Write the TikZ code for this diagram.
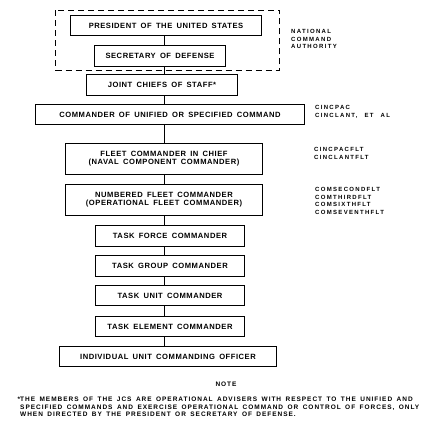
\documentclass[tikz,border=0pt]{standalone}
\usepackage{fontspec}
\setmainfont{Liberation Sans}
\newfontfamily\chartfont[LetterSpace=7,WordSpace=1.6]{Liberation Sans}
\newfontfamily\tagfont[LetterSpace=22,WordSpace=2.4]{Liberation Sans}
\newfontfamily\notefont[LetterSpace=15,WordSpace=1.6]{Liberation Sans}
\usetikzlibrary{positioning}

\begin{document}
\begin{tikzpicture}[x=1pt, y=-1pt,
  every node/.style={font=\chartfont\bfseries\fontsize{7.6}{8.2}\selectfont},
  box/.style={draw, line width=1pt, minimum height=21pt, inner sep=0pt, align=center},
  tag/.style={anchor=north west, align=left, inner sep=0pt, font=\tagfont\bfseries\fontsize{6}{7.8}\selectfont}]
\useasboundingbox (0,0) rectangle (442,438);

% National command authority
\node[box, minimum width=191pt, minimum height=20pt] (pres) at (166,25.5) {PRESIDENT OF THE UNITED STATES};
\node[box, minimum width=131pt] (secdef) at (160,56) {SECRETARY OF DEFENSE};
\draw[line width=0.8pt, dash pattern=on 6pt off 4pt] (55.5,10.5) rectangle (279.5,70.5);
\node[tag] (ncatag) at (291,29) {NATIONAL\\COMMAND\\AUTHORITY};

% Chain of command
\node[box, minimum width=151pt] (jcs) at (162,85) {JOINT CHIEFS OF STAFF*};
\node[box, minimum width=269pt, minimum height=20pt] (unified) at (170,114.5) {COMMANDER OF UNIFIED OR SPECIFIED COMMAND};
\node[box, minimum width=197pt, minimum height=31pt] (fleet) at (164,159) {FLEET COMMANDER IN CHIEF\\(NAVAL COMPONENT COMMANDER)};
\node[box, minimum width=197pt, minimum height=31pt] (numbered) at (164,200) {NUMBERED FLEET COMMANDER\\(OPERATIONAL FLEET COMMANDER)};
\node[box, minimum width=149pt] (tf) at (170,236) {TASK FORCE COMMANDER};
\node[box, minimum width=149pt] (tg) at (170,266) {TASK GROUP COMMANDER};
\node[box, minimum width=149pt, minimum height=20pt] (tu) at (170,295.5) {TASK UNIT COMMANDER};
\node[box, minimum width=149pt, minimum height=20pt] (te) at (170,326.5) {TASK ELEMENT COMMANDER};
\node[box, minimum width=217pt, minimum height=20pt] (indiv) at (168,356.5) {INDIVIDUAL UNIT COMMANDING OFFICER};

% Command designators
\node[tag] (cinctag) at (315,105) {CINCPAC\\CINCLANT, ET AL};
\node[tag] (flttag) at (314,147) {CINCPACFLT\\CINCLANTFLT};
\node[tag] (numtag) at (315,187) {COMSECONDFLT\\COMTHIRDFLT\\COMSIXTHFLT\\COMSEVENTHFLT};

% Connectors
\coordinate (spine) at (164.5,0);
\foreach \a/\b in {pres/secdef, secdef/jcs, jcs/unified, unified/fleet, fleet/numbered, numbered/tf, tf/tg, tg/tu, tu/te, te/indiv}
  \draw[line width=1pt] (\a.south -| spine) -- (\b.north -| spine);

% Note
\node[font=\notefont\bfseries\fontsize{6.5}{7.6}\selectfont, anchor=north, inner sep=0pt] (notehead) at (226,382) {NOTE};
\node[tag, font=\notefont\bfseries\fontsize{6.5}{7.6}\selectfont] (notetext) at (20,397) {\llap{*}THE MEMBERS OF THE JCS ARE OPERATIONAL ADVISERS WITH RESPECT TO THE UNIFIED AND\\SPECIFIED COMMANDS AND EXERCISE OPERATIONAL COMMAND OR CONTROL OF FORCES, ONLY\\WHEN DIRECTED BY THE PRESIDENT OR SECRETARY OF DEFENSE.};
\end{tikzpicture}
\end{document}
